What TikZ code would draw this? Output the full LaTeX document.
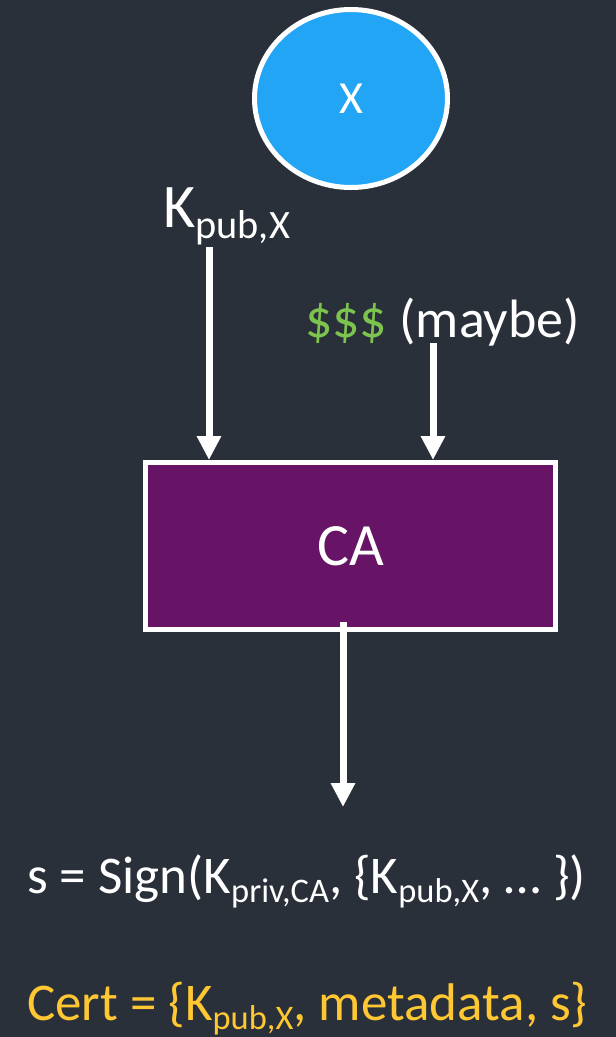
\documentclass[tikz,border=0pt]{standalone}
\usepackage{fontspec}
\setmainfont{Carlito}
\usepackage{graphicx}
\usetikzlibrary{arrows.meta,positioning,calc}

\definecolor{slate}{HTML}{2A3039}
\definecolor{skyblue}{HTML}{22A5F4}
\definecolor{plum}{HTML}{671466}
\definecolor{cash}{HTML}{7DC44E}
\definecolor{gold}{HTML}{FFC833}
\newcommand{\fs}[1]{\fontsize{#1}{#1}\selectfont}
\newcommand{\lo}[1]{\raisebox{-0.18em}{\scalebox{0.65}{#1}}}

\begin{document}
\begin{tikzpicture}[x=1pt, y=1pt,
  flow/.style={draw=white, line width=7pt, -{Triangle[width=23pt,length=24pt]}},
  lbl/.style={text=white, inner sep=0pt, anchor=base west}]
\fill[slate] (0,0) rectangle (616,-1037);
% the party and the authority
\draw[white, line width=5pt, fill=skyblue] (351,-98.5) ellipse [x radius=96.5, y radius=89];
\node (x) [text=white, font=\fs{46}] at (351,-99) {X};
\node (ca) [draw=white, line width=5pt, fill=plum, minimum width=410pt, minimum height=167pt, text=white, font=\fs{60}] at (350.5,-546) {CA};
% inputs
\node (kpub) [lbl, font=\fs{62}] at (163,-227) {K\lo{pub,X}};
\node (pay) [lbl, font=\fs{54}] at (305,-337) {\textcolor{cash}{\$\$\$} (maybe)};
% outputs
\node (sig) [lbl, font=\fs{53}] at (27,-893) {s = Sign(K\lo{priv,CA}, \{K\lo{pub,X}, … \})};
\node (cert) [lbl, text=gold, font=\fs{53}] at (27,-1020) {Cert = \{K\lo{pub,X}, metadata, s\}};
\coordinate (kfoot) at (209,-247); \coordinate (pfoot) at (433,-343); \coordinate (sighead) at (343,-807);
\draw[flow] (kfoot) -- (kfoot |- ca.north); \draw[flow] (pfoot) -- (pfoot |- ca.north);
\draw[flow] ([yshift=10pt]sighead |- ca.south) -- (sighead);
\end{tikzpicture}
\end{document}
